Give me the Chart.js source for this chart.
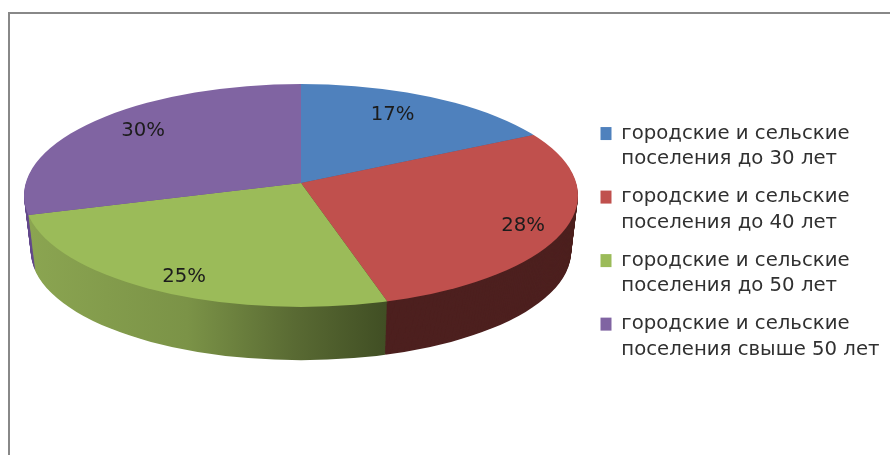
<!DOCTYPE html>
<html>
<head>
<meta charset="utf-8">
<style>
    html, body { margin: 0; background: #fff; }
    #frame { position: absolute; left: 8px; top: 12px; right: 0; bottom: 0; border-left: 2px solid #888; border-top: 2px solid #888; }
    #pie { position: absolute; left: 0; top: 0; filter: blur(0.4px); }
</style>
<script src="https://cdn.jsdelivr.net/npm/chart.js@4"></script>
</head>
<body>
<div id="frame"></div>
<canvas id="pie" width="890" height="455"></canvas>
<script>
const categories = [
    ['городские и сельские', 'поселения до 30 лет'],
    ['городские и сельские', 'поселения до 40 лет'],
    ['городские и сельские', 'поселения до 50 лет'],
    ['городские и сельские', 'поселения свыше 50 лет']
];
const shares = [17, 28, 25, 30];
const topColors = ['#4f81bd', '#c0504d', '#9bbb59', '#8064a2'];
const sideColors = ['#3d6290', '#4d201f', null, '#644a8c'];
const labelReachX = [0.65, 0.835, 0.9, 0.705];
const labelReachY = [0.76, 0.95, 0.86, 0.85];

// the look of the 3d pie: where the ellipse sits and how thick the side is
const view = {
    apexX: 301, apexY: 183,
    midY: 195.5, rx: 277, ry: 111.5,
    depth: 56, shrink: 0.025,
    upper: [277, 0, 0, 104], lower: [286, 6, -2.6, 122]
};
const overscan = 1.4;

function sideGradient(ctx, arc) {
    // the gradient is read in the scaled space of the slice, so work back to it
    const R = arc.outerRadius;
    const toLocal = (x) => arc.x + (x - view.apexX) / (view.lower[0] * overscan / R);
    const g = ctx.createLinearGradient(toLocal(28), 0, toLocal(387), 0);
    g.addColorStop(0, '#8ba551');
    g.addColorStop(0.45, '#7b9347');
    g.addColorStop(0.75, '#596a33');
    g.addColorStop(1, '#414f24');
    return g;
}

function paintSlice(ctx, arc, drop, scale) {
    const k = overscan / arc.outerRadius;
    [view.upper, view.lower].forEach(function (m, half) {
        const seam = view.apexY + drop;
        ctx.save();
        ctx.beginPath();
        ctx.ellipse(view.apexX, view.midY + drop, view.rx * scale, view.ry * scale, 0, 0, Math.PI * 2);
        ctx.clip();
        ctx.beginPath();
        if (half == 0) {
            ctx.rect(0, 0, 890, seam);
        } else {
            ctx.rect(0, seam, 890, 455 - seam);
        }
        ctx.clip();
        ctx.translate(view.apexX, seam);
        ctx.transform(m[0] * k, m[1] * k, m[2] * k, m[3] * k, 0, 0);
        ctx.translate(-arc.x, -arc.y);
        arc.draw(ctx);
        ctx.restore();
    });
}

const pie3d = {
    id: 'pie3d',
    afterLayout(chart) {
        // legend stands lower than the pie centre
        const legend = chart.legend;
        legend.left = 588;
        legend.right = 890;
        legend.width = 302;
        legend.top = 89;
        legend.bottom = 400;
        legend.height = 311;
    },
    // replaces the normal flat drawing of the arcs
    beforeDatasetsDraw(chart) {
        const ctx = chart.ctx;
        const arcs = chart.getDatasetMeta(0).data;
        for (let d = view.depth; d >= 1; d--) {
            const scale = 1 - view.shrink * d / view.depth;
            arcs.forEach(function (arc, i) {
                const saved = arc.options;
                const fill = sideColors[i] || sideGradient(ctx, arc);
                arc.options = Object.assign(Object.create(saved), { backgroundColor: fill });
                paintSlice(ctx, arc, d, scale);
                arc.options = saved;
            });
        }
        arcs.forEach(function (arc) {
            paintSlice(ctx, arc, 0, 1);
        });

        // percent labels
        ctx.save();
        ctx.font = '19.7px "DejaVu Sans"';
        ctx.fillStyle = '#1c1c1c';
        ctx.textAlign = 'center';
        ctx.textBaseline = 'middle';
        const total = shares.reduce((a, b) => a + b, 0);
        arcs.forEach(function (arc, i) {
            const mid = (arc.startAngle + arc.endAngle) / 2;
            const sin = Math.sin(mid);
            const m = sin < 0 ? view.upper : view.lower;
            const x = view.apexX + Math.cos(mid) * m[0] * labelReachX[i];
            const y = view.apexY + sin * m[3] * labelReachY[i];
            ctx.fillText(Math.round(shares[i] / total * 100) + '%', x, y);
        });
        ctx.restore();
        return false;
    }
};

new Chart(document.getElementById('pie'), {
    type: 'pie',
    data: {
        labels: categories,
        datasets: [{
            data: shares,
            backgroundColor: topColors,
            borderWidth: 0
        }]
    },
    options: {
        responsive: false,
        animation: false,
        plugins: {
            tooltip: { enabled: false },
            legend: {
                position: 'right',
                labels: {
                    boxWidth: 11,
                    boxHeight: 13,
                    padding: 12.5,
                    color: '#303030',
                    font: { family: '"DejaVu Sans"', size: 19.7, lineHeight: 1.295 }
                }
            }
        }
    },
    plugins: [pie3d]
});
</script>
</body>
</html>
